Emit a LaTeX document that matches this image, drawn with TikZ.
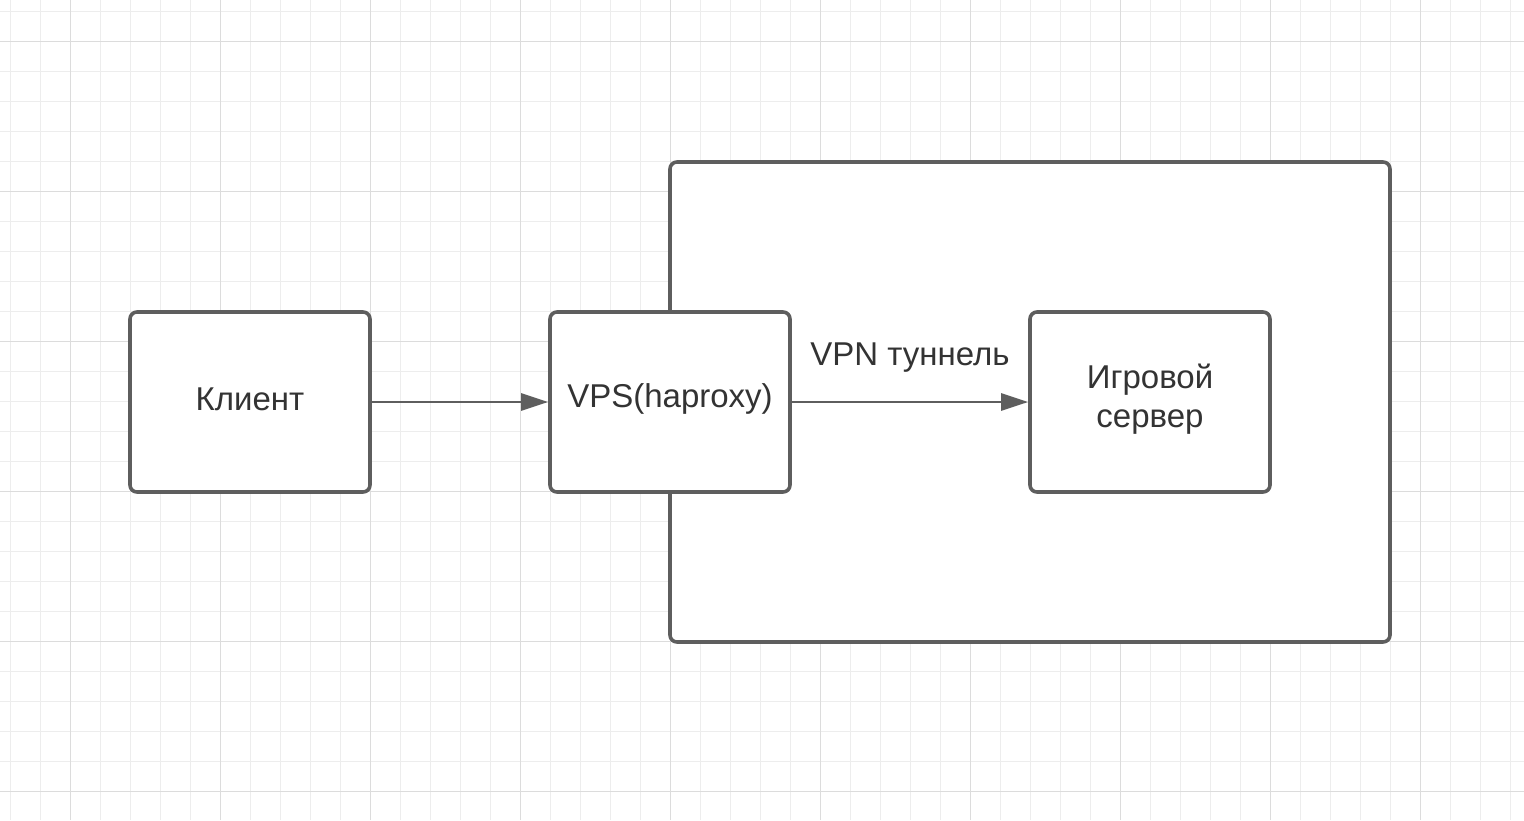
\documentclass[tikz,border=0pt]{standalone}
\usepackage{fontspec}
\setmainfont{Liberation Sans}
\usetikzlibrary{arrows.meta}
\definecolor{edge}{HTML}{5E5E5E}
\definecolor{txt}{HTML}{333333}
\definecolor{gridminor}{HTML}{EDEDED}
\definecolor{gridmajor}{HTML}{DCDCDC}
\newcommand{\up}[1]{\raisebox{3pt}[\height][\depth]{#1}}
\tikzset{
  box/.style={draw=edge, line width=3.6pt, rounded corners=7pt, fill=white, minimum width=240pt, minimum height=180pt, inner sep=0pt, text=txt, font=\fontsize{33}{39}\selectfont, align=center},
  flow/.style={draw=edge, line width=2.8pt, -{Triangle[length=27pt,width=17pt]}},
  lbl/.style={text=txt, font=\fontsize{33}{39}\selectfont, inner sep=0pt}
}
\begin{document}
\begin{tikzpicture}[x=1pt,y=-1pt]
\useasboundingbox (0,0) rectangle (1524,820);
\fill[white] (0,0) rectangle (1524,820);
% grid
\foreach \x in {10,40,...,1524} \draw[gridminor, line width=1pt] (\x,0) -- (\x,820);
\foreach \y in {11,41,...,820} \draw[gridminor, line width=1pt] (0,\y) -- (1524,\y);
\foreach \x in {70,220,...,1524} \draw[gridmajor, line width=1pt] (\x,0) -- (\x,820);
\foreach \y in {41,191,...,820} \draw[gridmajor, line width=1pt] (0,\y) -- (1524,\y);
% container
\node[box, minimum width=720pt, minimum height=480pt] (cont) at (1030,402) {};
% nodes
\node[box] (client) at (250,402) {\up{Клиент}};
\node[box] (vps) at (670,402) {\up{VPS(haproxy)}};
\node[box] (game) at (1150,402) {\up{Игровой}\\\up{сервер}};
% connectors
\draw[flow] (client.east) -- (vps.west);
\draw[flow] (vps.east) -- node[lbl, above=28pt] (tun) {VPN туннель} (game.west);
\end{tikzpicture}
\end{document}
